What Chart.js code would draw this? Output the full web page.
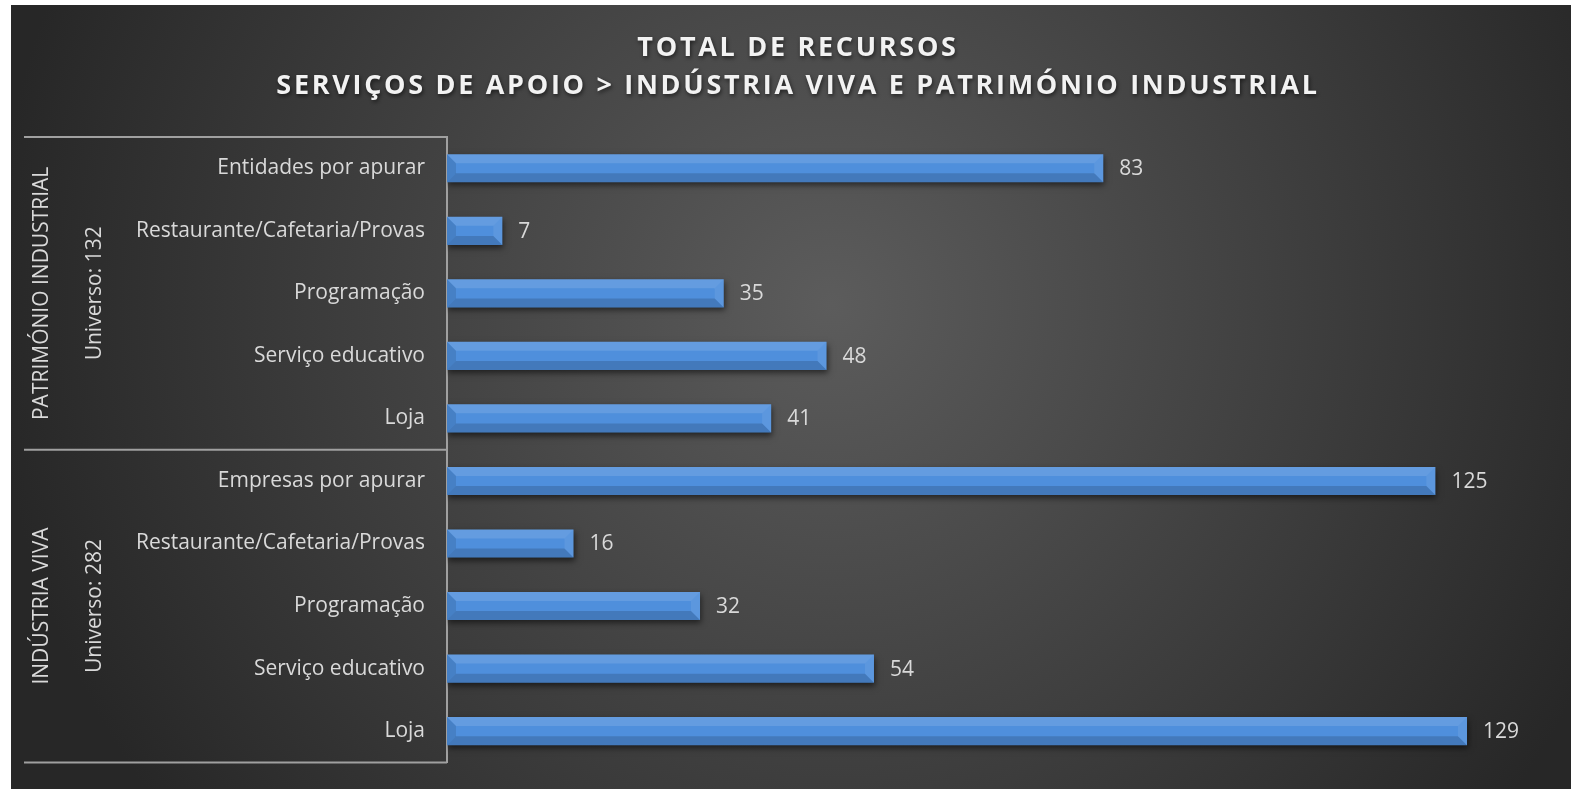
<!DOCTYPE html>
<html>
<head>
  <title>Total de Recursos</title>
  <script src="https://cdn.jsdelivr.net/npm/chart.js"></script>
  <style>
    body { margin: 0; background: #fff; overflow: hidden; }
    #chart { position: absolute; left: 11px; top: 5px; }
  </style>
</head>
<body>
  <canvas id="chart" width="1560" height="784"></canvas>

  <script>
    var titleLines = ['TOTAL DE RECURSOS', 'SERVIÇOS DE APOIO > INDÚSTRIA VIVA E PATRIMÓNIO INDUSTRIAL'];
    var categories = ['Entidades por apurar', 'Restaurante/Cafetaria/Provas', 'Programação', 'Serviço educativo', 'Loja',
                      'Empresas por apurar', 'Restaurante/Cafetaria/Provas', 'Programação', 'Serviço educativo', 'Loja'];
    var values = [83, 7, 35, 48, 41, 125, 16, 32, 54, 129];
    var groupNames = ['PATRIMÓNIO INDUSTRIAL', 'INDÚSTRIA VIVA'];
    var groupUniverse = ['Universo: 132', 'Universo: 282'];
    var groupSizes = [5, 5];

    var FONT = '"Open Sans", sans-serif';
    var TEXT = '#d9d9d9';
    var LINE = '#a0a0a0';

    // dark radial background + title
    var backdrop = {
      id: 'backdrop',
      beforeDraw: function(chart) {
        var c = chart.ctx;
        var g = c.createRadialGradient(820, 300, 0, 820, 300, 840);
        g.addColorStop(0, '#5c5c5c');
        g.addColorStop(1, '#272727');
        c.save();
        c.fillStyle = g;
        c.fillRect(0, 0, chart.width, chart.height);
        c.font = 'bold 27px ' + FONT;
        c.letterSpacing = '2.7px';
        c.fillStyle = '#f2f2f2';
        c.textAlign = 'center';
        c.textBaseline = 'middle';
        c.shadowColor = 'rgba(0,0,0,0.6)';
        c.shadowBlur = 4;
        c.shadowOffsetX = 1;
        c.shadowOffsetY = 2;
        c.fillText(titleLines[0], 787, 43);
        c.fillText(titleLines[1], 787, 81);
        c.restore();
      }
    };

    // shadow under bars
    var barShadow = {
      id: 'barShadow',
      beforeDatasetDraw: function(chart) {
        var c = chart.ctx;
        c.save();
        c.shadowColor = 'rgba(0,0,0,0.55)';
        c.shadowBlur = 6;
        c.shadowOffsetX = 1;
        c.shadowOffsetY = 3;
      },
      afterDatasetDraw: function(chart) {
        chart.ctx.restore();
      }
    };

    // bevel edges, value labels, group boxes
    var extras = {
      id: 'extras',
      afterDatasetsDraw: function(chart) {
        var c = chart.ctx;
        var meta = chart.getDatasetMeta(0);
        c.save();
        meta.data.forEach(function(bar, i) {
          var x0 = bar.base, x1 = bar.x;
          var y0 = bar.y - bar.height / 2, y1 = bar.y + bar.height / 2;
          var b = Math.min(9, (x1 - x0) / 2);
          // top
          c.fillStyle = 'rgba(255,255,255,0.12)';
          c.beginPath(); c.moveTo(x0, y0); c.lineTo(x1, y0); c.lineTo(x1 - b, y0 + b); c.lineTo(x0 + b, y0 + b); c.fill();
          // bottom
          c.fillStyle = 'rgba(0,0,0,0.15)';
          c.beginPath(); c.moveTo(x0, y1); c.lineTo(x1, y1); c.lineTo(x1 - b, y1 - b); c.lineTo(x0 + b, y1 - b); c.fill();
          // left
          c.fillStyle = 'rgba(0,0,0,0.1)';
          c.beginPath(); c.moveTo(x0, y0); c.lineTo(x0 + b, y0 + b); c.lineTo(x0 + b, y1 - b); c.lineTo(x0, y1); c.fill();
          // right
          c.fillStyle = 'rgba(255,255,255,0.08)';
          c.beginPath(); c.moveTo(x1, y0); c.lineTo(x1 - b, y0 + b); c.lineTo(x1 - b, y1 - b); c.lineTo(x1, y1); c.fill();

          c.fillStyle = TEXT;
          c.font = '21px ' + FONT;
          c.textAlign = 'left';
          c.textBaseline = 'middle';
          c.fillText(values[i], x1 + 16, bar.y + 1);
        });

        var ys = chart.scales.y;
        var area = chart.chartArea;
        var step = ys.getPixelForValue(1) - ys.getPixelForValue(0);
        c.strokeStyle = LINE;
        c.lineWidth = 2;
        var start = 0;
        var edges = [area.top];
        groupSizes.forEach(function(n) {
          start += n;
          edges.push(ys.getPixelForValue(start - 1) + step / 2);
        });
        edges.forEach(function(y) {
          c.beginPath(); c.moveTo(13, y); c.lineTo(area.left, y); c.stroke();
        });
        c.fillStyle = TEXT;
        c.font = '21px ' + FONT;
        c.textAlign = 'center';
        c.textBaseline = 'middle';
        groupNames.forEach(function(name, g) {
          var mid = (edges[g] + edges[g + 1]) / 2;
          c.save();
          c.translate(31, mid);
          c.rotate(-Math.PI / 2);
          c.fillText(name, 0, 0);
          c.restore();
          c.save();
          c.translate(84, mid);
          c.rotate(-Math.PI / 2);
          c.fillText(groupUniverse[g], 0, 0);
          c.restore();
        });
        c.restore();
      }
    };

    var ctx = document.getElementById('chart').getContext('2d');
    var chart = new Chart(ctx, {
      type: 'bar',
      data: {
        labels: categories,
        datasets: [{
          data: values,
          backgroundColor: function(context) {
            var el = context.element;
            if (!el || el.height === undefined) return '#4f8fdc';
            var top = el.y - el.height / 2;
            var g = context.chart.ctx.createLinearGradient(0, top, 0, top + el.height);
            g.addColorStop(0, '#a6d4ff');
            g.addColorStop(0.12, '#6fb2fb');
            g.addColorStop(0.4, '#5597e6');
            g.addColorStop(0.85, '#3f78c6');
            g.addColorStop(1, '#2c5c9e');
            return g;
          },
          borderWidth: 0,
          barPercentage: 0.45,
          categoryPercentage: 1
        }]
      },
      options: {
        indexAxis: 'y',
        animation: false,
        responsive: false,
        layout: { autoPadding: false, padding: { top: 132, bottom: 26, right: 17, left: 0 } },
        scales: {
          x: { display: false, min: 0, max: 140 },
          y: {
            afterFit: function(scale) { scale.width = 436; },
            grid: { display: false },
            border: { display: true, color: LINE, width: 2 },
            ticks: { color: TEXT, font: { family: FONT, size: 21 }, padding: 14, autoSkip: false }
          }
        },
        plugins: {
          legend: { display: false },
          tooltip: { enabled: false }
        }
      },
      plugins: [backdrop, barShadow, extras]
    });
  </script>
</body>
</html>
